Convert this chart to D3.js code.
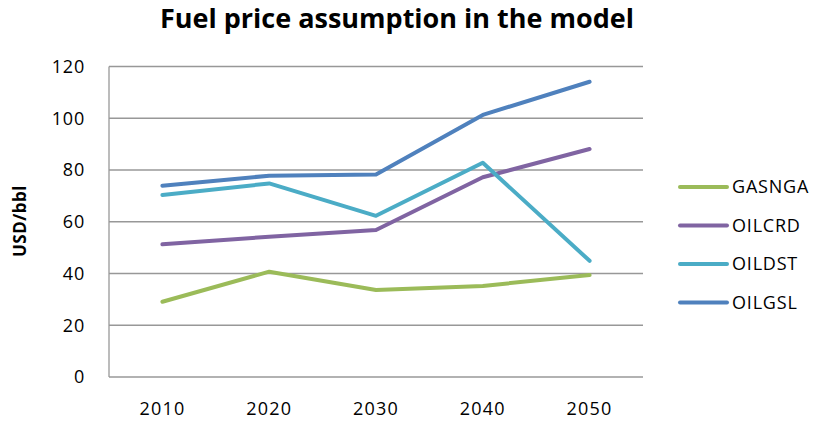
<!DOCTYPE html>
<html><head><meta charset="utf-8">
<script src="https://cdn.jsdelivr.net/npm/d3@7"></script>
<style>body{margin:0;background:#fff;} svg{display:block;font-family:"Open Sans",sans-serif;}</style>
</head><body><svg id="c" width="815" height="421"></svg>
<script>
const years = ["2010","2020","2030","2040","2050"];
const seriesNames = ["GASNGA","OILCRD","OILDST","OILGSL"];
const GASNGA = [29.1, 40.7, 33.6, 35.2, 39.4];
const OILCRD = [51.3, 54.2, 56.8, 77.2, 88.1];
const OILDST = [70.3, 74.8, 62.3, 82.8, 44.9];
const OILGSL = [73.9, 77.8, 78.3, 101.3, 114.1];
const yTicks = [0,20,40,60,80,100,120];
const colors = ["#9BBB59","#8064A2","#4BACC6","#4F81BD"];
const data = [GASNGA, OILCRD, OILDST, OILGSL];

const svg = d3.select("#c");
const L=109, R=643, T=66.5, B=377;
const x = d3.scaleBand().domain(years).range([L,R]);
const y = d3.scaleLinear().domain([0,120]).range([B,T]);

svg.append("g").selectAll("line").data(yTicks).join("line")
  .attr("x1",L).attr("x2",R).attr("y1",d=>y(d)).attr("y2",d=>y(d))
  .attr("stroke","#989898").attr("stroke-width",1.3);
svg.append("line").attr("x1",L).attr("x2",L).attr("y1",T).attr("y2",B)
  .attr("stroke","#989898").attr("stroke-width",1.3);

const ya = svg.append("g").attr("transform",`translate(${L},0)`)
  .call(d3.axisLeft(y).tickValues(yTicks).tickSize(0).tickPadding(24));
ya.select(".domain").remove();
ya.selectAll("text").attr("font-family","Open Sans").attr("font-size",18)
  .attr("letter-spacing","0.8px").attr("fill","#000");

const xa = svg.append("g").attr("transform",`translate(0,${B})`)
  .call(d3.axisBottom(x).tickSize(0).tickPadding(25));
xa.select(".domain").remove();
xa.selectAll("text").attr("font-family","Open Sans").attr("font-size",18)
  .attr("letter-spacing","1.2px").attr("fill","#000");

const line = d3.line().x((d,i)=>x(years[i])+x.bandwidth()/2).y(d=>y(d));
svg.append("g").selectAll("path").data(data).join("path")
  .attr("d",line).attr("fill","none").attr("stroke",(d,i)=>colors[i])
  .attr("stroke-width",4).attr("stroke-linecap","round").attr("stroke-linejoin","round");

const lg = svg.append("g").selectAll("g").data(seriesNames).join("g")
  .attr("transform",(d,i)=>`translate(680,${187+i*38.5})`);
lg.append("line").attr("x1",0).attr("x2",47).attr("stroke",(d,i)=>colors[i])
  .attr("stroke-width",4).attr("stroke-linecap","round");
lg.append("text").attr("x",52).attr("dy","0.36em").attr("font-size",18)
  .attr("letter-spacing","0.8px").attr("fill","#000").text(d=>d);

svg.append("text").attr("x",397).attr("y",28).attr("text-anchor","middle")
  .attr("font-size",27).attr("font-weight","bold").attr("fill","#000")
  .text("Fuel price assumption in the model");

svg.append("text").attr("transform","translate(26,221) rotate(-90)").attr("text-anchor","middle")
  .attr("font-size",17).attr("font-weight","bold").attr("letter-spacing","0.5px")
  .attr("fill","#000").text("USD/bbl");
</script></body></html>
